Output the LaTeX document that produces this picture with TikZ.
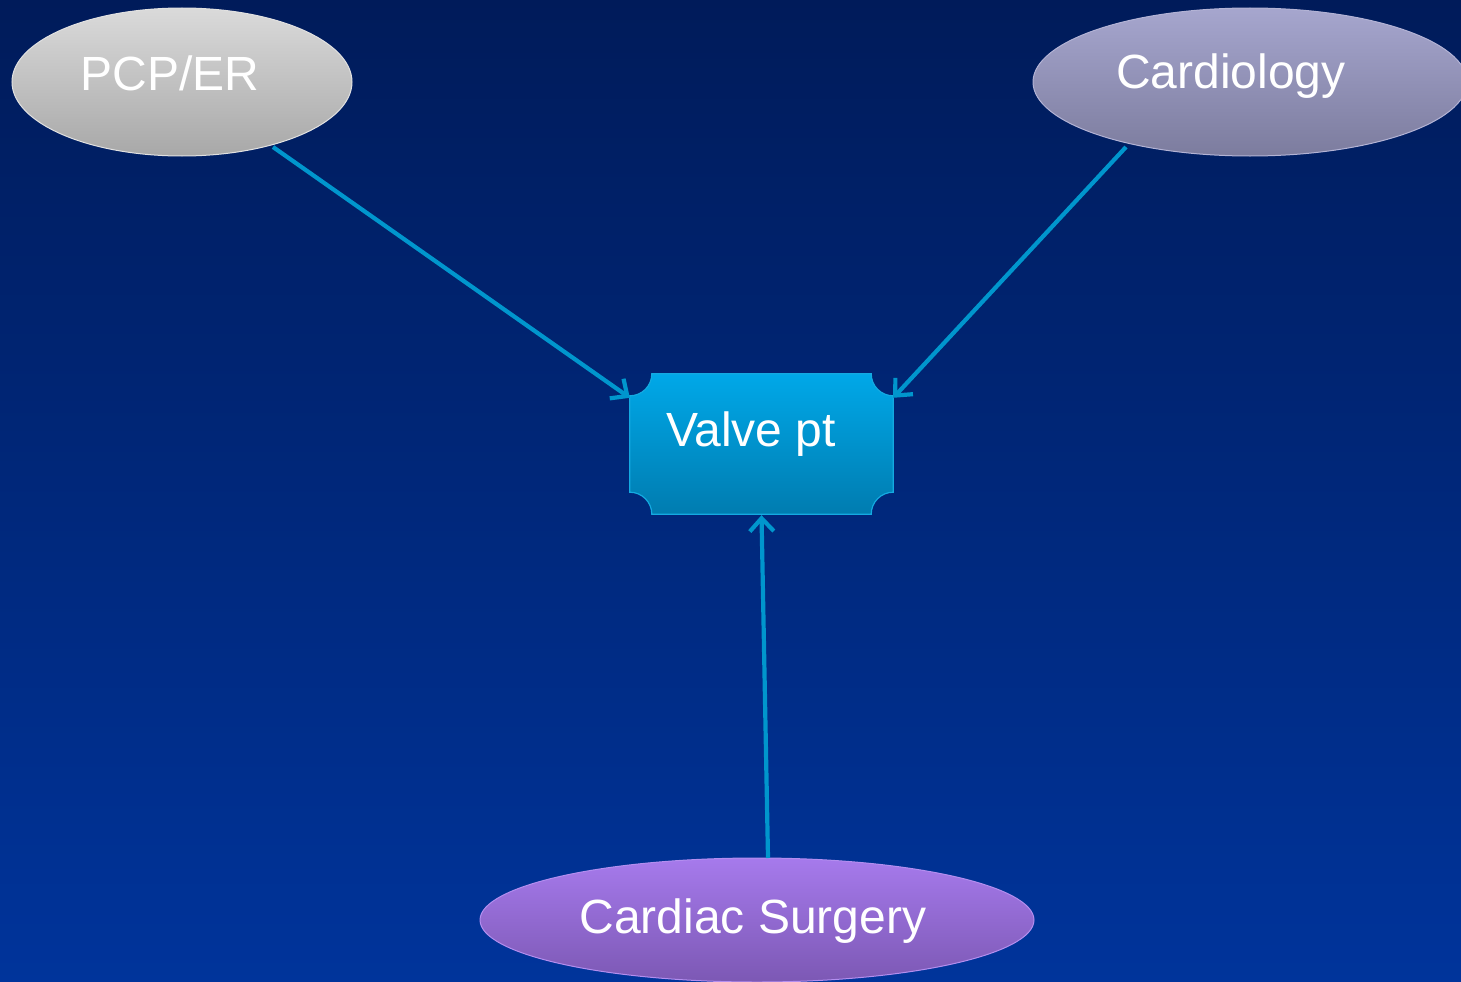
\documentclass[tikz,border=0pt]{standalone}
\usepackage{fontspec}
\setmainfont{Liberation Sans}
\usetikzlibrary{shapes.geometric,arrows.meta}
\definecolor{bgtop}{RGB}{0,27,90}
\definecolor{bgbot}{RGB}{0,52,155}
\definecolor{pcptop}{RGB}{218,218,218}
\definecolor{pcpbot}{RGB}{168,168,168}
\definecolor{cardtop}{RGB}{166,166,206}
\definecolor{cardbot}{RGB}{124,124,158}
\definecolor{surgtop}{RGB}{166,122,236}
\definecolor{surgbot}{RGB}{124,88,180}
\definecolor{valvetop}{RGB}{0,168,232}
\definecolor{valvebot}{RGB}{0,124,176}
\definecolor{valveedge}{RGB}{20,170,225}
\definecolor{arrowc}{RGB}{0,150,205}
\tikzset{
  oval/.style={ellipse, inner sep=0pt, line width=1pt},
  lbl/.style={text=white, font=\fontsize{48}{57}\selectfont, inner sep=0pt},
  conn/.style={draw=arrowc, line width=4.2pt, -{Straight Barb[length=13pt,width=24pt,line width=4.2pt]}}
}
\begin{document}
\begin{tikzpicture}[x=1pt,y=-1pt]
\useasboundingbox (0,0) rectangle (1461,982);
\shade[top color=bgtop, bottom color=bgbot] (0,0) rectangle (1461,982);
% ellipses
\node[oval, minimum width=340pt, minimum height=148pt, draw=pcptop!80!white, top color=pcptop, bottom color=pcpbot] (pcp) at (182,82) {};
\node[oval, minimum width=434pt, minimum height=148pt, draw=cardtop!85!white, top color=cardtop, bottom color=cardbot] (card) at (1250,82) {};
\node[oval, minimum width=554pt, minimum height=124pt, draw=surgtop!85!white, top color=surgtop, bottom color=surgbot] (surg) at (757,920) {};
\node[lbl] (pcpt) at (170,73) {PCP/ER};
\node[lbl] (cardt) at (1231,76) {Cardiology};
\node[lbl] (surgt) at (753,921) {Cardiac Surgery};
% valve box
\node[minimum width=263pt, minimum height=140pt, inner sep=0pt] (valve) at (761.5,444) {};
\shade[top color=valvetop, bottom color=valvebot, draw=valveedge, line width=1.2pt]
  ([yshift=-22pt]valve.north west) arc[start angle=-90, end angle=0, radius=22pt]
  -- ([xshift=-22pt]valve.north east) arc[start angle=180, end angle=270, radius=22pt]
  -- ([yshift=22pt]valve.south east) arc[start angle=90, end angle=180, radius=22pt]
  -- ([xshift=22pt]valve.south west) arc[start angle=0, end angle=90, radius=22pt]
  -- cycle;
\node[lbl] (valvet) at (751,434) {Valve pt};
% connectors
\coordinate (pcpout) at (273,147);
\coordinate (cardout) at (1126,147);
\coordinate (surgout) at (768,858);
\coordinate (vin1) at ([yshift=-24pt]valve.north west);
\coordinate (vin2) at ([yshift=-24pt]valve.north east);
\coordinate (vin3) at ([yshift=-1pt]valve.south);
\draw[conn] (pcpout) -- (vin1);
\draw[conn] (cardout) -- (vin2);
\draw[conn] (surgout) -- (vin3);
\end{tikzpicture}
\end{document}
